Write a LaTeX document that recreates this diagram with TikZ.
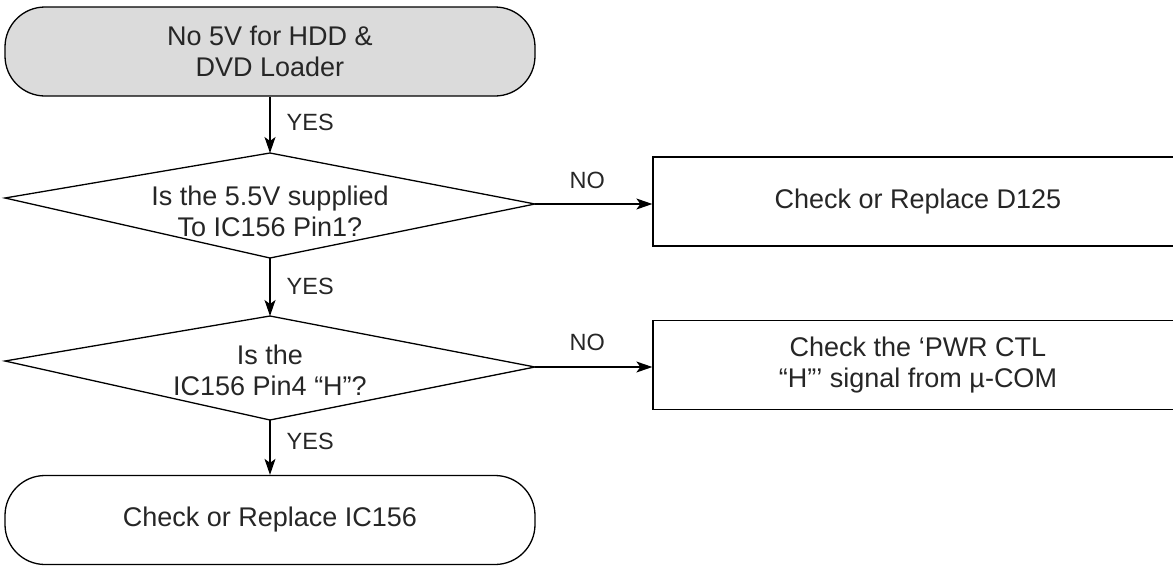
\documentclass[tikz,border=0pt]{standalone}
\usepackage{fontspec}
\setmainfont{Liberation Sans}
\usetikzlibrary{arrows.meta}
\begin{document}
\begin{tikzpicture}[x=1pt,y=-1pt,
  line width=1.3pt,
  txt/.style={font=\fontsize{27}{31}\selectfont, align=center, inner sep=0pt, text=black!85},
  lbl/.style={font=\fontsize{23.5}{28}\selectfont, inner sep=0pt, anchor=west, text=black!85},
  term/.style={draw, rounded corners=40pt, minimum width=530pt, minimum height=89pt, inner sep=0pt, txt},
  proc/.style={draw, minimum width=530pt, minimum height=89pt, inner sep=0pt, txt},
  arr/.style={-{Stealth[length=16pt,width=11pt,inset=4pt]}}
]
\useasboundingbox (0,0) rectangle (1173,568);

% start terminal
\node[term, fill=black!14] (start) at (270,51.5) {No 5V for HDD \&\\DVD Loader};

% decision 1
\coordinate (d1t) at (270,153);
\coordinate (d1l) at (5,198);
\coordinate (d1r) at (535,204);
\coordinate (d1b) at (270,258);
\draw (d1t) -- (d1r) -- (d1b) -- (d1l) -- cycle;
\node[txt] (q1) at (270,211) {Is the 5.5V supplied\\To IC156 Pin1?};

% process box 1
\node[proc] (box1) at (918,201.5) {Check or Replace D125};

% decision 2
\coordinate (d2t) at (270,316);
\coordinate (d2l) at (5,361);
\coordinate (d2r) at (535,367);
\coordinate (d2b) at (270,420);
\draw (d2t) -- (d2r) -- (d2b) -- (d2l) -- cycle;
\node[txt] (q2) at (270,370) {Is the\\IC156 Pin4 “H”?};

% process box 2
\node[proc] (box2) at (918,365) {Check the ‘PWR CTL\\“H”’ signal from µ-COM};

% end terminal
\node[term] (stop) at (270,520) {Check or Replace IC156};

% connectors
\draw[arr] (start.south) -- (d1t);
\draw[arr] (d1b) -- (d2t);
\draw[arr] (d2b) -- (stop.north);
\draw[arr] (d1r) -- (d1r -| box1.west);
\draw[arr] (d2r) -- (d2r -| box2.west);

% labels
\node[lbl] (y1) at (286,122) {YES};
\node[lbl] (y2) at (286,286) {YES};
\node[lbl] (y3) at (286,441) {YES};
\node[lbl] (n1) at (569,180) {NO};
\node[lbl] (n2) at (569,342) {NO};
\end{tikzpicture}
\end{document}
